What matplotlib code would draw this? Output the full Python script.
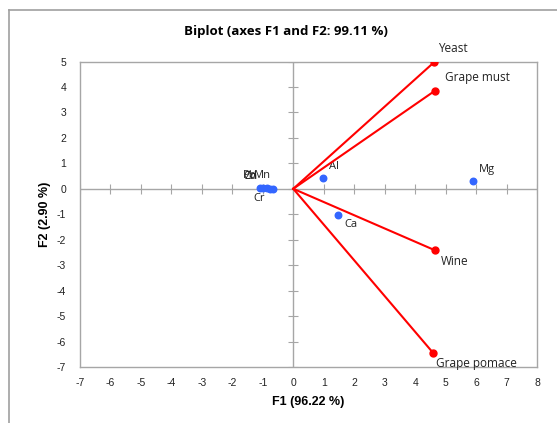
import numpy as np
import matplotlib
matplotlib.use('Agg')
import matplotlib.pyplot as plt
from matplotlib.lines import Line2D

# variables (red vectors)
var_names = ['Yeast', 'Grape must', 'Wine', 'Grape pomace']
var_f1 = [4.63, 4.66, 4.66, 4.60]
var_f2 = [4.98, 3.86, -2.42, -6.46]

# observations (blue points)
obs_names = ['Mg', 'Al', 'Ca', 'Cr', 'Mn', 'Pb', 'Cd', 'Zn']
obs_f1 = [5.90, 0.98, 1.48, -1.08, -0.98, -0.85, -0.75, -0.66]
obs_f2 = [0.31, 0.43, -1.02, 0.05, 0.04, 0.02, -0.01, -0.02]

xticks = list(range(-7, 9))
yticks = list(range(-7, 6))

# label offsets in points (dx, dy, ha, va)
var_lab = [(3, 5, 'left', 'bottom'), (7, 5, 'left', 'bottom'),
           (4, -3, 'left', 'top'), (2, -3, 'left', 'top')]
obs_lab = [(4, 4, 'left', 'bottom'), (4, 4, 'left', 'bottom'), (4, -3, 'left', 'top'),
           (-1, -4, 'center', 'top'), (-0.7, 5, 'center', 'bottom'), (-13, 5, 'center', 'bottom'),
           (-14.5, 5, 'center', 'bottom'), (-15.8, 5, 'center', 'bottom')]

lab_font = ['Open Sans', 'DejaVu Sans']
num_font = ['Liberation Sans', 'DejaVu Sans']

fig = plt.figure(figsize=(5.57, 4.23), dpi=100)
ax = fig.add_axes([0.1436, 0.1324, 0.8205, 0.7222])

ax.set_xlim(-7, 8)
ax.set_ylim(-7, 5)
ax.set_xticks(xticks)
ax.set_yticks(yticks)
ax.set_xticklabels([str(t) for t in xticks], fontsize=7.5, family=num_font, color='#222222')
ax.set_yticklabels([str(t) for t in yticks], fontsize=7.5, family=num_font, color='#222222')
ax.tick_params(axis='y', length=0, pad=10)
ax.tick_params(axis='x', length=0, pad=8)
for s in ax.spines.values():
    s.set_color('#a6a6a6')
    s.set_linewidth(1.0)

# centre axes with small cross ticks
ax.axhline(0, color='#a6a6a6', lw=1.0, zorder=1)
ax.axvline(0, color='#a6a6a6', lw=1.0, zorder=1)
ax.plot(xticks, [0] * len(xticks), ls='none', marker='|', ms=7, mew=0.8, color='#a6a6a6', zorder=1)
ax.plot([0] * len(yticks), yticks, ls='none', marker='_', ms=7, mew=0.8, color='#a6a6a6', zorder=1)

# observations
ax.scatter(obs_f1, obs_f2, s=22, color='#3366ff', zorder=3)
for name, x, y, (dx, dy, ha, va) in zip(obs_names, obs_f1, obs_f2, obs_lab):
    ax.annotate(name, (x, y), xytext=(dx, dy), textcoords='offset points', ha=ha, va=va,
                fontsize=8, family=lab_font, color='#222222')

# variable vectors
for name, x, y, (dx, dy, ha, va) in zip(var_names, var_f1, var_f2, var_lab):
    ax.plot([0, x], [0, y], color='#ff0000', lw=1.5, zorder=4)
    ax.plot(x, y, 'o', color='#ff0000', ms=5, zorder=5)
    ax.annotate(name, (x, y), xytext=(dx, dy), textcoords='offset points', ha=ha, va=va,
                fontsize=8.5, family=lab_font, color='#222222', annotation_clip=False)

ax.set_xlabel('F1 (96.22 %)', fontsize=9, fontweight='bold', family=num_font, labelpad=6)
ax.set_ylabel('F2 (2.90 %)', fontsize=9, fontweight='bold', family=num_font, labelpad=4)
fig.text(0.514, 0.925, 'Biplot (axes F1 and F2: 99.11 %)', ha='center', va='center',
         fontsize=9.5, fontweight='bold', family=lab_font)

# outer chart border (top and left only visible)
fig.add_artist(Line2D([9 / 557, 1], [1 - 10 / 423, 1 - 10 / 423], color='#a0a0a0', lw=1.2))
fig.add_artist(Line2D([9 / 557, 9 / 557], [0, 1 - 10 / 423], color='#a0a0a0', lw=1.2))

fig.savefig('out.png', dpi=100)
